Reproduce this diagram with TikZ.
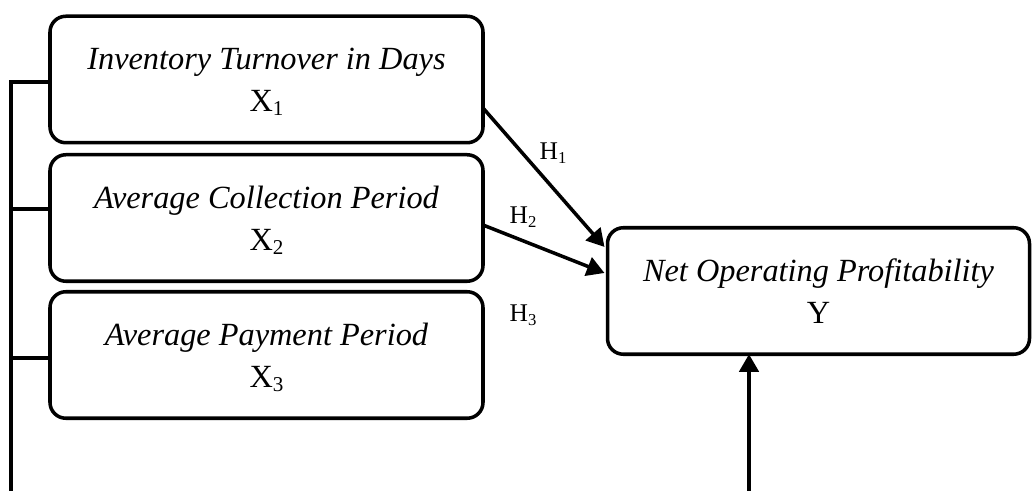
\documentclass[tikz,border=0pt]{standalone}
\usepackage{fontspec}
\setmainfont{Liberation Serif}
\usetikzlibrary{arrows.meta,calc}
\newcommand{\mysub}[1]{\raisebox{-0.3ex}{\fontsize{12}{12}\selectfont #1}}
\newcommand{\hsub}[1]{\raisebox{-0.3ex}{\fontsize{9.5}{9.5}\selectfont #1}}
\tikzset{
  varbox/.style={draw, line width=2pt, rounded corners=9pt, align=center,
    minimum width=8.66cm, minimum height=2.53cm, inner sep=0pt, outer sep=0pt,
    font=\fontsize{18.4}{24}\selectfont, text depth=0pt},
  conn/.style={line width=2pt},
  arr/.style={line width=2pt, -{Triangle[length=10pt,width=11pt]}},
  hlab/.style={font=\fontsize{14.5}{14.5}\selectfont, inner sep=0pt}
}
\begin{document}
\begin{tikzpicture}
\useasboundingbox (0,0) rectangle (20.64,9.82);
\node[varbox] (X1) at (5.33,8.23) {\textit{Inventory Turnover in Days}\\X\mysub{1}};
\node[varbox] (X2) at (5.33,5.46) {\textit{Average Collection Period}\\X\mysub{2}};
\node[varbox] (X3) at (5.33,2.72) {\textit{Average Payment Period}\\X\mysub{3}};
\node[varbox, minimum width=8.44cm] (Y) at (16.37,4.00) {\textit{Net Operating Profitability}\\Y};
% left bus
\coordinate (b0) at (0.22,0);
\coordinate (b1) at (0.22,8.18);
\coordinate (b2) at (0.22,5.64);
\coordinate (b3) at (0.22,2.66);
\draw[conn] (b0) -- (b1) -- (b1 -| X1.west);
\draw[conn] (b2) -- (b2 -| X2.west);
\draw[conn] (b3) -- (b3 -| X3.west);
% hypotheses arrows
\draw[arr] ($(X1.east)+(0,-0.57)$) -- ($(Y.west)+(-0.06,0.88)$);
\draw[arr] ($(X2.east)+(0,-0.14)$) -- ($(Y.west)+(-0.06,0.36)$);
% bottom arrow
\coordinate (ab) at (14.98,0);
\draw[arr] (ab) -- (ab |- Y.south);
% labels
\node[hlab] (h1) at (11.06,6.76) {H\hsub{1}};
\node[hlab] (h2) at (10.46,5.48) {H\hsub{2}};
\node[hlab] (h3) at (10.46,3.52) {H\hsub{3}};
\end{tikzpicture}
\end{document}
